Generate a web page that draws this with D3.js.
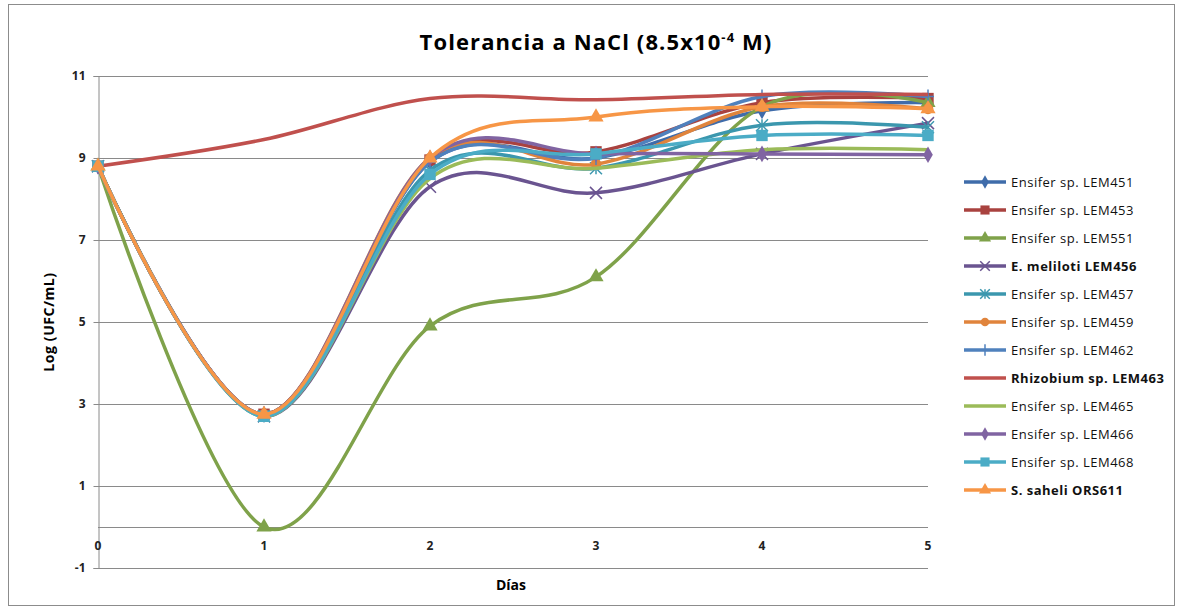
<!DOCTYPE html>
<html>
<head>
<meta charset="utf-8">
<script src="https://cdn.jsdelivr.net/npm/d3@7"></script>
<style>
  html, body { margin: 0; padding: 0; background: #fff; }
  svg { display: block; font-family: "Open Sans", Lato, "DejaVu Sans", sans-serif; }
</style>
</head>
<body>
<svg id="chart" width="1177" height="608"></svg>
<script>
// Días de incubación
const days = [0, 1, 2, 3, 4, 5];

// Nombre de cada cepa
const seriesNames = [
  "Ensifer sp. LEM451", "Ensifer sp. LEM453", "Ensifer sp. LEM551",
  "E. meliloti LEM456", "Ensifer sp. LEM457", "Ensifer sp. LEM459",
  "Ensifer sp. LEM462", "Rhizobium sp. LEM463", "Ensifer sp. LEM465",
  "Ensifer sp. LEM466", "Ensifer sp. LEM468", "S. saheli ORS611"
];

// Log (UFC/mL) por día, una lista por cepa
const lem451 = [8.8, 2.75, 8.9, 9.0, 10.15, 10.35];
const lem453 = [8.8, 2.75, 8.95, 9.15, 10.35, 10.45];
const lem551 = [8.8, 0.0, 4.9, 6.1, 10.25, 10.35];
const lem456 = [8.8, 2.7, 8.3, 8.15, 9.1, 9.85];
const lem457 = [8.8, 2.7, 8.7, 8.75, 9.8, 9.75];
const lem459 = [8.8, 2.75, 9.0, 8.85, 10.25, 10.2];
const lem462 = [8.8, 2.75, 8.9, 9.0, 10.5, 10.5];
const lem463 = [8.8, 9.45, 10.45, 10.42, 10.55, 10.55];
const lem465 = [8.8, 2.7, 8.5, 8.75, 9.2, 9.2];
const lem466 = [8.8, 2.75, 9.0, 9.1, 9.1, 9.08];
const lem468 = [8.8, 2.7, 8.6, 9.1, 9.55, 9.55];
const ors611 = [8.8, 2.75, 9.0, 10.0, 10.25, 10.2];

const seriesValues = [lem451, lem453, lem551, lem456, lem457, lem459,
                      lem462, lem463, lem465, lem466, lem468, ors611];

const yTicks = [11, 9, 7, 5, 3, 1, -1];
const xTicks = [0, 1, 2, 3, 4, 5];

const colors = ["#3F6CAA", "#A9423F", "#7FA24A", "#6A5490", "#3B97AE", "#E0843C",
                "#4F81BD", "#C0504D", "#9BBB59", "#8064A2", "#4BACC6", "#F79646"];
const markers = ["diamond", "square", "triangle", "x", "asterisk", "circle",
                 "plus", "none", "none", "diamond", "square", "triangle"];
const boldLabel = [false, false, false, true, false, false, false, true, false, false, false, true];

const svg = d3.select("#chart");

// Marco exterior
svg.append("rect")
  .attr("x", 8.5).attr("y", 4.5).attr("width", 1166).attr("height", 601)
  .attr("fill", "none").attr("stroke", "#8c8c8c").attr("stroke-width", 1);

const x = d3.scaleLinear().domain([0, 5]).range([98, 928]);
const y = d3.scaleLinear().domain([-1, 11]).range([568, 76]);

// Título
const title = svg.append("text")
  .attr("x", 596).attr("y", 50)
  .attr("text-anchor", "middle")
  .attr("font-size", 22).attr("font-weight", "bold").attr("fill", "#000")
  .attr("letter-spacing", 1.1);
title.append("tspan").text("Tolerancia a NaCl (8.5x10");
title.append("tspan").attr("font-size", 13).attr("dy", -8).text("-4");
title.append("tspan").attr("dy", 8).text(" M)");

// Líneas de cuadrícula
const grid = svg.append("g");
grid.selectAll("line").data(yTicks).join("line")
  .attr("x1", x(0)).attr("x2", x(5))
  .attr("y1", d => Math.round(y(d)) + 0.5).attr("y2", d => Math.round(y(d)) + 0.5)
  .attr("stroke", "#8a8a8a").attr("stroke-width", 1);

// Eje horizontal en y = 0
svg.append("line")
  .attr("x1", x(0)).attr("x2", x(5))
  .attr("y1", Math.round(y(0)) + 0.5).attr("y2", Math.round(y(0)) + 0.5)
  .attr("stroke", "#8a8a8a").attr("stroke-width", 1);

// Eje vertical
const yAxis = d3.axisLeft(y).tickValues(yTicks).tickSize(5).tickFormat(d => String(d));
const yg = svg.append("g").attr("transform", `translate(${x(0) + 0.5},0)`).call(yAxis);
yg.select(".domain").attr("stroke", "#8a8a8a");
yg.selectAll(".tick line").attr("stroke", "#8a8a8a");
yg.selectAll(".tick text").attr("font-size", 12).attr("font-weight", "bold")
  .attr("fill", "#222").attr("x", -13).attr("font-family", "Open Sans, sans-serif");

// Etiquetas de los días
svg.append("g").selectAll("text").data(xTicks).join("text")
  .attr("x", d => x(d)).attr("y", y(0) + 23)
  .attr("text-anchor", "middle")
  .attr("font-size", 12).attr("font-weight", "bold").attr("fill", "#222")
  .text(d => d);

// Títulos de los ejes
svg.append("text")
  .attr("transform", `translate(54,${y(5)}) rotate(-90)`)
  .attr("text-anchor", "middle")
  .attr("font-size", 14).attr("font-weight", "bold").attr("fill", "#000")
  .attr("letter-spacing", 0.6)
  .text("Log (UFC/mL)");
svg.append("text")
  .attr("x", 511).attr("y", 590)
  .attr("text-anchor", "middle")
  .attr("font-size", 14).attr("font-weight", "bold").attr("fill", "#000")
  .text("Días");

// Curvas suavizadas
const line = d3.line()
  .x((d, i) => x(days[i]))
  .y(d => y(d))
  .curve(d3.curveCatmullRom.alpha(0));

function drawMarker(g, type, color, cx, cy, scale) {
  const k = scale || 1;
  if (type === "none") return;
  const sym = { diamond: [d3.symbolDiamond, 80], square: [d3.symbolSquare, 130],
                triangle: [d3.symbolTriangle, 100], circle: [d3.symbolCircle, 90] }[type];
  if (sym) {
    g.append("path").attr("d", d3.symbol(sym[0], sym[1] * k * k)())
      .attr("transform", `translate(${cx},${cy})`).attr("fill", color);
    return;
  }
  const s = 6 * k;
  const segs = [];
  if (type === "x" || type === "asterisk") segs.push([-s, -s, s, s], [-s, s, s, -s]);
  if (type === "asterisk") segs.push([0, -s, 0, s]);
  if (type === "plus") segs.push([0, -s - 1, 0, s + 1], [-s, 0, s, 0]);
  segs.forEach(sg => g.append("line")
    .attr("x1", cx + sg[0]).attr("y1", cy + sg[1])
    .attr("x2", cx + sg[2]).attr("y2", cy + sg[3])
    .attr("stroke", color).attr("stroke-width", 1.5));
}

const plot = svg.append("g");
seriesValues.forEach((vals, k) => {
  const g = plot.append("g");
  g.append("path").attr("d", line(vals))
    .attr("fill", "none").attr("stroke", colors[k])
    .attr("stroke-width", 3.5).attr("stroke-linejoin", "round");
  vals.forEach((v, i) => drawMarker(g, markers[k], colors[k], x(days[i]), y(v), 1));
});

// Leyenda
const legend = svg.append("g");
seriesNames.forEach((name, k) => {
  const ly = 182 + k * 28;
  const g = legend.append("g");
  g.append("line").attr("x1", 964).attr("x2", 1006).attr("y1", ly).attr("y2", ly)
    .attr("stroke", colors[k]).attr("stroke-width", 3.5);
  drawMarker(g, markers[k], colors[k], 985, ly, 0.8);
  g.append("text").attr("x", 1011).attr("y", ly + 4.5)
    .attr("font-size", 13).attr("fill", "#111")
    .attr("letter-spacing", 0.5)
    .attr("font-weight", boldLabel[k] ? "bold" : "normal")
    .text(name);
});
</script>
</body>
</html>
